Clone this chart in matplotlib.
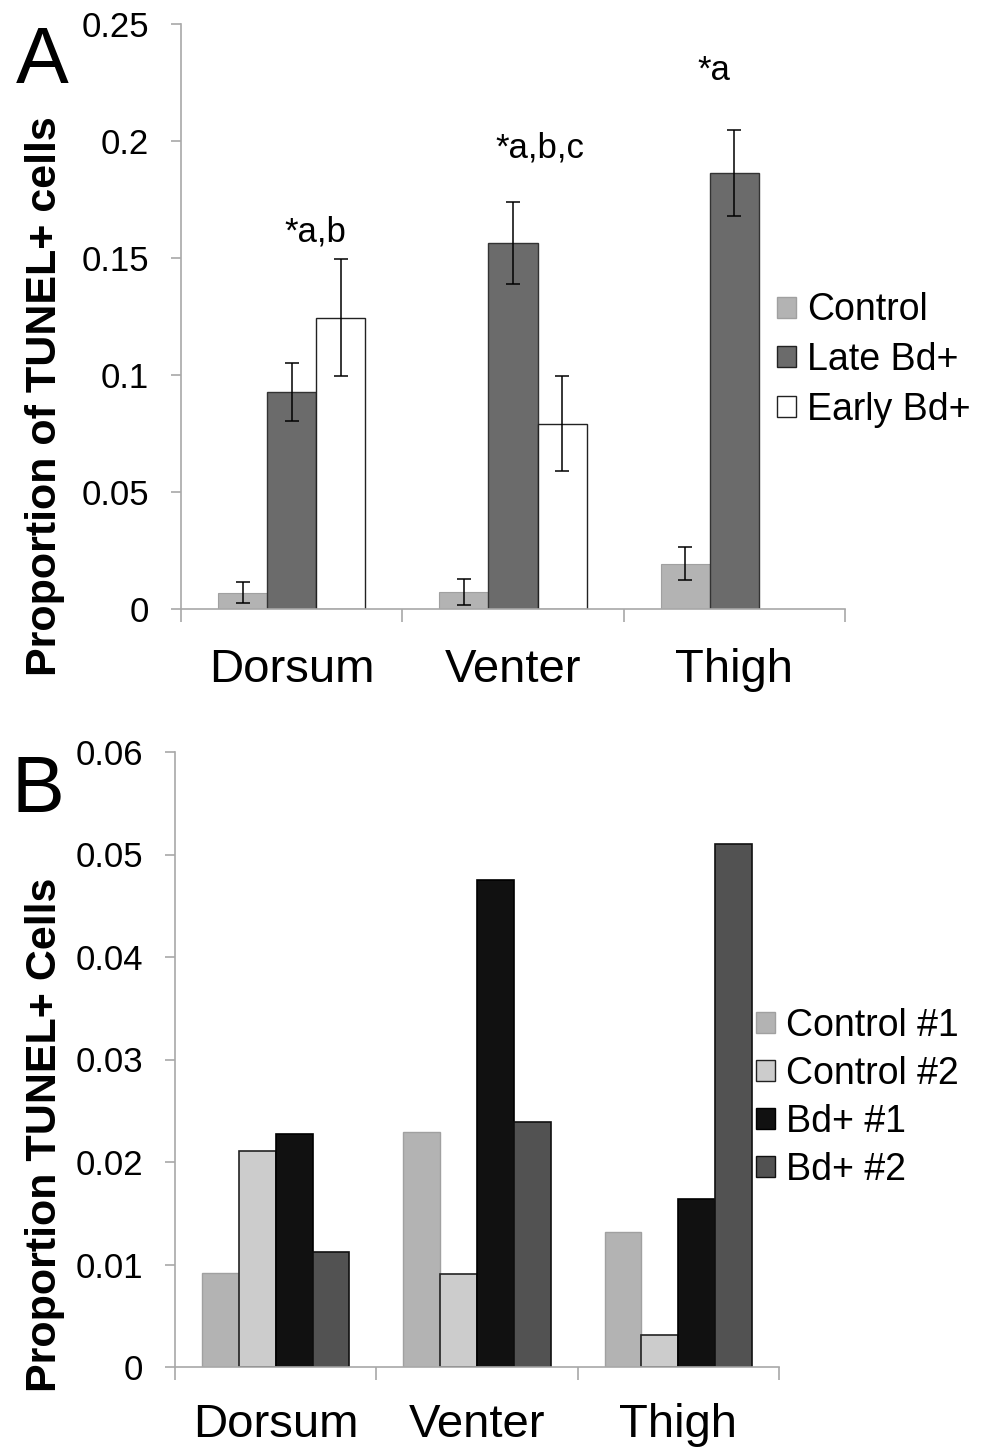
import numpy as np
import matplotlib
matplotlib.use("Agg")
import matplotlib.pyplot as plt
from matplotlib.patches import Patch

plt.rcParams['font.family'] = ['Liberation Sans', 'DejaVu Sans']

# panel A data
sites = ["Dorsum", "Venter", "Thigh"]
groups_a = ["Control", "Late Bd+", "Early Bd+"]
control_a = [0.007, 0.0073, 0.0194]
control_a_err = [0.0045, 0.0057, 0.0071]
late_a = [0.0929, 0.1566, 0.1864]
late_a_err = [0.0124, 0.0175, 0.0183]
early_a = [0.1245, 0.0791, 0.0]
early_a_err = [0.025, 0.0203, 0.0]
notes_a = ["*a,b", "*a,b,c", "*a"]
notes_a_x = [0.106, 1.122, 1.908]
notes_a_y = [0.157, 0.193, 0.226]
yticks_a = [0, 0.05, 0.1, 0.15, 0.2, 0.25]
yticklabels_a = ["0", "0.05", "0.1", "0.15", "0.2", "0.25"]

# panel B data
groups_b = ["Control #1", "Control #2", "Bd+ #1", "Bd+ #2"]
control1_b = [0.0092, 0.0229, 0.0132]
control2_b = [0.0211, 0.0091, 0.0031]
bd1_b = [0.0227, 0.0475, 0.0164]
bd2_b = [0.0112, 0.0239, 0.0510]
yticks_b = [0, 0.01, 0.02, 0.03, 0.04, 0.05, 0.06]
yticklabels_b = ["0", "0.01", "0.02", "0.03", "0.04", "0.05", "0.06"]

fig = plt.figure(figsize=(9.82, 14.49), dpi=100)
ax_col = "#a8a8a8"


def style_axes(ax, yticks, yticklabels, xpad):
    for s in ["top", "right"]:
        ax.spines[s].set_visible(False)
    for s in ["left", "bottom"]:
        ax.spines[s].set_color(ax_col)
        ax.spines[s].set_linewidth(1.2)
    ax.set_xlim(-0.5, 2.5)
    ax.set_xticks(range(3))
    ax.set_xticklabels(sites, fontsize=34)
    ax.tick_params(axis="x", length=0, pad=xpad)
    ax.set_xticks([-0.5, 0.5, 1.5, 2.5], minor=True)
    ax.tick_params(axis="x", which="minor", length=9, color=ax_col, width=1.2)
    ax.set_yticks(yticks)
    ax.set_yticklabels(yticklabels, fontsize=25)
    ax.tick_params(axis="y", length=7, color=ax_col, width=1.2, pad=16)


# ---- panel A
ax1 = fig.add_axes([181 / 982, 1 - 609 / 1449, 664 / 982, 585 / 1449])
x = np.arange(3)
w = 0.222
err_kw = dict(ecolor="black", elinewidth=1.1, capsize=5, capthick=1.1)
ax1.bar(x - w, control_a, w, yerr=control_a_err, color="#b3b3b3", edgecolor="#a0a0a0",
        linewidth=0.8, error_kw=err_kw)
ax1.bar(x, late_a, w, yerr=late_a_err, color="#6b6b6b", edgecolor="#333333",
        linewidth=1.0, error_kw=err_kw)
ax1.bar(x[:2] + w, early_a[:2], w, yerr=early_a_err[:2], color="white", edgecolor="#222222",
        linewidth=1.0, error_kw=err_kw)
ax1.set_ylim(0, 0.25)
style_axes(ax1, yticks_a, yticklabels_a, 28)
for t, xx, yy in zip(notes_a, notes_a_x, notes_a_y):
    ax1.text(xx, yy, t, ha="center", va="baseline", fontsize=25)

handles_a = [Patch(facecolor="#b3b3b3", edgecolor="#a0a0a0"),
             Patch(facecolor="#6b6b6b", edgecolor="#222222"),
             Patch(facecolor="white", edgecolor="#222222")]
fig.legend(handles_a, groups_a, loc="center left", bbox_to_anchor=(777 / 982, 1 - 360 / 1449),
           frameon=False, fontsize=27, handlelength=0.5, handleheight=0.5,
           handletextpad=0.3, labelspacing=0.36, borderpad=0, borderaxespad=0)

fig.text(16 / 982, 1 - 83 / 1449, "A", fontsize=57, ha="left", va="baseline")
fig.text(45 / 982, 1 - 396 / 1449, "Proportion of TUNEL+ cells", fontsize=31,
         fontweight="bold", rotation=90, ha="center", va="center")

# ---- panel B
ax2 = fig.add_axes([175 / 982, 1 - 1367 / 1449, 604 / 982, 615 / 1449])
wb = 0.183
ax2.bar(x - 1.5 * wb, control1_b, wb, color="#b3b3b3", edgecolor="#a0a0a0", linewidth=1.0)
ax2.bar(x - 0.5 * wb, control2_b, wb, color="#cccccc", edgecolor="#222222", linewidth=1.2)
ax2.bar(x + 0.5 * wb, bd1_b, wb, color="#111111", edgecolor="#000000", linewidth=1.2)
ax2.bar(x + 1.5 * wb, bd2_b, wb, color="#525252", edgecolor="#111111", linewidth=1.2)
ax2.set_ylim(0, 0.06)
style_axes(ax2, yticks_b, yticklabels_b, 26)

handles_b = [Patch(facecolor="#b3b3b3", edgecolor="#a0a0a0"),
             Patch(facecolor="#cccccc", edgecolor="#222222"),
             Patch(facecolor="#111111", edgecolor="#000000"),
             Patch(facecolor="#525252", edgecolor="#111111")]
fig.legend(handles_b, groups_b, loc="center left", bbox_to_anchor=(756 / 982, 1 - 1098 / 1449),
           frameon=False, fontsize=27, handlelength=0.5, handleheight=0.5,
           handletextpad=0.3, labelspacing=0.32, borderpad=0, borderaxespad=0)

fig.text(12 / 982, 1 - 812 / 1449, "B", fontsize=57, ha="left", va="baseline")
fig.text(45 / 982, 1 - 1135 / 1449, "Proportion TUNEL+ Cells", fontsize=31,
         fontweight="bold", rotation=90, ha="center", va="center")

fig.savefig("out.png", dpi=100)
